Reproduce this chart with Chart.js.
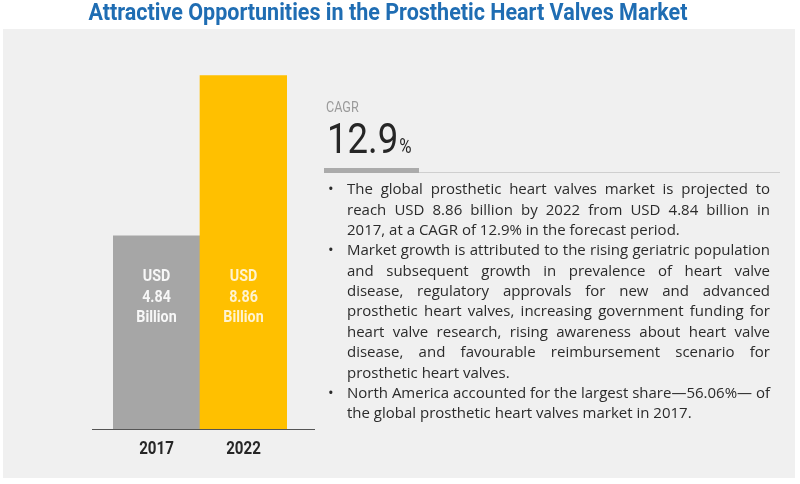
<!DOCTYPE html>
<html>
<head>
<meta charset="utf-8">
<script src="https://cdn.jsdelivr.net/npm/chart.js@4.4.0/dist/chart.umd.min.js"></script>
<style>
html,body{margin:0;padding:0;background:#fff;}
#wrap{width:800px;height:484px;}
</style>
</head>
<body>
<div id="wrap"><canvas id="c" width="800" height="484"></canvas></div>
<script>
const titleText = 'Attractive Opportunities in the Prosthetic Heart Valves Market';
const categories = ['2017', '2022'];
const marketValues = [4.84, 8.86];
const valueLabels = [['USD', '4.84', 'Billion'], ['USD', '8.86', 'Billion']];
const barColors = ['#A6A6A6', '#FFC000'];
const cagrLabel = 'CAGR';
const cagrValue = '12.9';
const cagrUnit = '%';
const bullet1 = [
  'The global prosthetic heart valves market is projected to',
  'reach USD 8.86 billion by 2022 from USD 4.84 billion in',
  '2017, at a CAGR of 12.9% in the forecast period.'
];
const bullet2 = [
  'Market growth is attributed to the rising geriatric population',
  'and subsequent growth in prevalence of heart valve',
  'disease, regulatory approvals for new and advanced',
  'prosthetic heart valves, increasing government funding for',
  'heart valve research, rising awareness about heart valve',
  'disease, and favourable reimbursement scenario for',
  'prosthetic heart valves.'
];
const bullet3 = [
  'North America accounted for the largest share\u201456.06%\u2014 of',
  'the global prosthetic heart valves market in 2017.'
];
const bullets = [bullet1, bullet2, bullet3];

const NARROW = "Roboto, 'Liberation Sans', sans-serif";
const BODY = "'Open Sans', 'Liberation Sans', sans-serif";
const SQUEEZE = 0.84;

function drawSqueezed(ctx, text, x, y, font, sx, align, color) {
  ctx.save();
  ctx.font = font;
  ctx.fillStyle = color;
  ctx.textAlign = align;
  ctx.translate(x, y);
  ctx.scale(sx, 1);
  ctx.fillText(text, 0, 0);
  ctx.restore();
}

const decor = {
  id: 'decor',
  beforeDraw(chart) {
    const ctx = chart.ctx;
    ctx.save();
    ctx.fillStyle = '#F0F0F0';
    ctx.fillRect(3, 29, 792, 449);
    ctx.restore();
  },
  afterDatasetsDraw(chart) {
    const ctx = chart.ctx;
    const area = chart.chartArea;
    const xs = chart.scales.x;
    ctx.save();
    // axis baseline
    ctx.strokeStyle = '#555555';
    ctx.lineWidth = 1;
    ctx.beginPath();
    ctx.moveTo(area.left - 21, Math.round(area.bottom) + 0.5);
    ctx.lineTo(area.right + 28, Math.round(area.bottom) + 0.5);
    ctx.stroke();
    ctx.textBaseline = 'middle';
    // category labels
    categories.forEach((c, i) => {
      drawSqueezed(ctx, c, xs.getPixelForValue(i), area.bottom + 20, 'bold 18px ' + NARROW, SQUEEZE, 'center', '#262626');
    });
    // bar labels
    const meta = chart.getDatasetMeta(0);
    meta.data.forEach((bar, i) => {
      const col = i === 0 ? '#F7F7F7' : '#FFF3D0';
      valueLabels[i].forEach((t, j) => {
        drawSqueezed(ctx, t, bar.x, area.bottom - 152 + j * 20.5, 'bold 17px ' + NARROW, SQUEEZE, 'center', col);
      });
    });
    ctx.restore();
  },
  afterDraw(chart) {
    const ctx = chart.ctx;
    ctx.save();
    // title
    ctx.textBaseline = 'middle';
    ctx.font = 'bold 24px ' + NARROW;
    const tw = ctx.measureText(titleText).width;
    drawSqueezed(ctx, titleText, 388, 14, 'bold 24px ' + NARROW, 599 / tw, 'center', '#1F6DB3');
    // CAGR block
    ctx.textBaseline = 'alphabetic';
    drawSqueezed(ctx, cagrLabel, 326, 112, '15px ' + NARROW, SQUEEZE, 'left', '#9A9A9A');
    drawSqueezed(ctx, cagrValue, 327, 153, '42px ' + NARROW, 0.87, 'left', '#262626');
    ctx.font = '42px ' + NARROW;
    const w = ctx.measureText(cagrValue).width * 0.87;
    drawSqueezed(ctx, cagrUnit, 327 + w + 1, 153, '20px ' + NARROW, SQUEEZE, 'left', '#262626');
    // separator
    ctx.fillStyle = '#ABABAB';
    ctx.fillRect(324, 168, 95, 5);
    ctx.strokeStyle = '#CFCFCF';
    ctx.lineWidth = 1;
    ctx.beginPath();
    ctx.moveTo(419, 172.5);
    ctx.lineTo(780, 172.5);
    ctx.stroke();
    // bullets
    ctx.font = '15px ' + BODY;
    ctx.fillStyle = '#2B2B2B';
    ctx.textBaseline = 'middle';
    ctx.textAlign = 'left';
    const left = 347, right = 770, lh = 20.36;
    let y = 190;
    bullets.forEach(lines => {
      ctx.fillText('\u2022', 328, y);
      lines.forEach((line, li) => {
        const last = li === lines.length - 1;
        if (last) {
          ctx.fillText(line, left, y);
        } else {
          const words = line.split(' ');
          const ww = words.map(s => ctx.measureText(s).width);
          const total = ww.reduce((a, b) => a + b, 0);
          const gap = (right - left - total) / (words.length - 1);
          let x = left;
          words.forEach((s, k) => { ctx.fillText(s, x, y); x += ww[k] + gap; });
        }
        y += lh;
      });
    });
    ctx.restore();
  }
};

new Chart(document.getElementById('c'), {
  type: 'bar',
  data: {
    labels: categories,
    datasets: [{
      data: marketValues,
      backgroundColor: barColors,
      borderWidth: 0,
      categoryPercentage: 1,
      barPercentage: 1
    }]
  },
  options: {
    responsive: false,
    animation: false,
    devicePixelRatio: 1,
    layout: { padding: { left: 113, right: 513, top: 30, bottom: 55 } },
    plugins: { legend: { display: false }, tooltip: { enabled: false }, title: { display: false } },
    scales: {
      y: { display: false, min: 0, max: 10 },
      x: { display: false }
    }
  },
  plugins: [decor]
});
</script>
</body>
</html>
